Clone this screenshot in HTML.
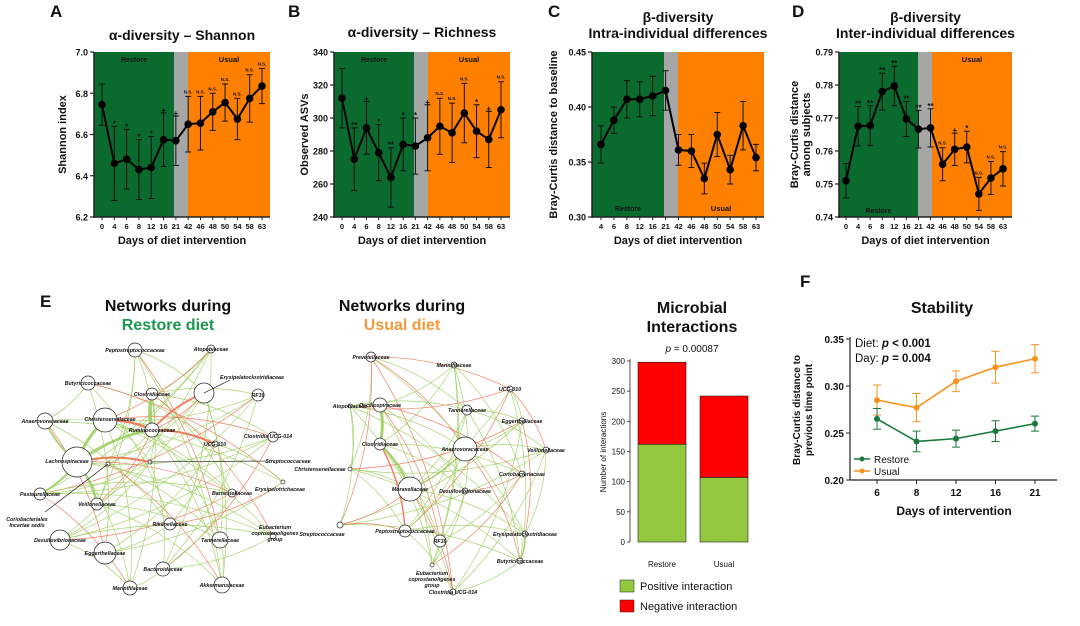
<!DOCTYPE html>
<html><head><meta charset="utf-8"><style>
html,body{margin:0;padding:0;background:#fff}
svg{display:block;font-family:"Liberation Sans",Arial,sans-serif}
</style></head><body>
<svg id="fig" width="1080" height="626" viewBox="0 0 1080 626" xmlns="http://www.w3.org/2000/svg">
<g id="layer"></g>
</svg>
<script>
// ---------- DATA ----------
const daysAB = ["0","4","6","8","12","16","21","42","46","48","50","54","58","63"];
const shannonMean = [6.745,6.46,6.48,6.43,6.44,6.575,6.57,6.65,6.655,6.71,6.755,6.675,6.775,6.835];
const shannonErr  = [0.10,0.18,0.145,0.145,0.15,0.13,0.12,0.135,0.13,0.09,0.09,0.10,0.115,0.085];
const shannonSig  = ["","*","*","*","*","+","+","N.S.","N.S.","N.S.","N.S.","N.S.","N.S.","N.S."];
const richMean = [312,275,294,279,264,284,283,288,295,291,303,292,287,305];
const richErr  = [18,19,16,17,18,16,17,20,17,18,18,16,17,17];
const richSig  = ["","**","+","*","**","*","*","+","N.S.","N.S.","N.S.","*","+","N.S."];
const daysC = ["4","6","8","12","16","21","42","46","48","50","54","58","63"];
const intraMean = [0.366,0.388,0.407,0.407,0.410,0.415,0.361,0.360,0.335,0.375,0.343,0.383,0.354];
const intraErr  = [0.017,0.012,0.017,0.016,0.018,0.018,0.014,0.015,0.014,0.020,0.013,0.022,0.012];
const interMean = [0.751,0.7675,0.7677,0.778,0.7797,0.7697,0.7666,0.767,0.756,0.7605,0.7612,0.747,0.7518,0.7546];
const interErr  = [0.0052,0.006,0.006,0.0056,0.006,0.0053,0.0057,0.0058,0.005,0.0049,0.0048,0.005,0.005,0.0052];
const interSig  = ["","**","**","**","**","**","**","**","N.S.","+","*","N.S.","N.S.","N.S."];
const barGroups = ["Restore","Usual"];
const positiveCounts = [162,107];
const negativeCounts = [136,135];
const barTicks = [0,50,100,150,200,250,300];
const stabDays = ["6","8","12","16","21"];
const stabRestore = [0.265,0.241,0.244,0.252,0.260];
const stabRestoreErr = [0.011,0.011,0.009,0.011,0.008];
const stabUsual = [0.285,0.277,0.305,0.320,0.329];
const stabUsualErr = [0.016,0.015,0.011,0.017,0.015];
const stabTicks = [0.20,0.25,0.30,0.35];

const NS="http://www.w3.org/2000/svg";
const L=document.getElementById('layer');
function el(tag,attrs,parent,txt){const e=document.createElementNS(NS,tag);for(const k in attrs)e.setAttribute(k,attrs[k]);if(txt!==undefined)e.textContent=txt;(parent||L).appendChild(e);return e;}
function txt(x,y,s,size,opts,parent){opts=opts||{};const t=el('text',{x:x,y:y,'font-size':size,'text-anchor':opts.anchor||'middle','font-weight':opts.bold===false?'normal':'bold',fill:opts.fill||'#111','font-style':opts.italic?'italic':'normal'},parent,s);if(opts.rot)t.setAttribute('transform','rotate(-90 '+x+' '+y+')');return t;}

function linePanel(cfg){
  const g=el('g',{});
  
  
  const {x0,x1,y0,y1,vmin,vmax}=cfg;
  const ys=v=>y1-(v-vmin)/(vmax-vmin)*(y1-y0);
  const n=cfg.cats.length;
  const xs=i=>cfg.px0+i*(cfg.px1-cfg.px0)/(n-1);
  let r=el('rect',{x:x0,y:y0,width:cfg.g1-x0,height:y1-y0,fill:'#0b6b2e'},g);
  
  r=el('rect',{x:cfg.g1,y:y0,width:cfg.g2-cfg.g1,height:y1-y0,fill:'#a6a6a6'},g);
  
  r=el('rect',{x:cfg.g2,y:y0,width:x1-cfg.g2,height:y1-y0,fill:'#ff8000'},g);
  
  txt((x0+cfg.g1)/2,cfg.rlY,'Restore',7,{},g);
  txt((cfg.g2+x1)/2,cfg.ulY,'Usual',7.5,{},g);
  el('line',{x1:x0,y1:y0,x2:x0,y2:y1+1,stroke:'#222','stroke-width':1.5},g);
  el('line',{x1:x0,y1:y1,x2:x1,y2:y1,stroke:'#222','stroke-width':1.5},g);
  cfg.ticks.forEach((t,i)=>{const y=ys(t);el('line',{x1:x0-4,y1:y,x2:x0,y2:y,stroke:'#222','stroke-width':1.2},g);
    const tl=txt(x0-6,y+3.5,cfg.tickLabels[i],9,{anchor:'end'},g);});
  cfg.cats.forEach((c,i)=>{el('line',{x1:xs(i),y1:y1,x2:xs(i),y2:y1+3,stroke:'#222','stroke-width':1},g);
    const tl=txt(xs(i),y1+12,c,7.5,{},g);});
  cfg.mean.forEach((m,i)=>{const x=xs(i),a=ys(m+cfg.err[i]),b=ys(m-cfg.err[i]);
    const e=el('path',{d:`M${x},${a}V${b}M${x-3},${a}H${x+3}M${x-3},${b}H${x+3}`,stroke:'#111','stroke-width':1,fill:'none'},g);
    
    if(cfg.sig&&cfg.sig[i]){const s=cfg.sig[i];const st=txt(x,a-3+(s==='N.S.'?0:3),s,s==='N.S.'?4.5:8,{},g);}
  });
  const p=el('polyline',{points:cfg.mean.map((m,i)=>xs(i)+','+ys(m)).join(' '),fill:'none',stroke:'#000','stroke-width':2},g);
  
  cfg.mean.forEach((m,i)=>{const c=el('circle',{cx:xs(i),cy:ys(m),r:3.8,fill:'#000'},g);});
  const xt=txt((x0+x1)/2,y1+27,'Days of diet intervention',11,{},g);
  cfg.ytitle.forEach((s,k)=>{const yt=txt(cfg.ytX+k*12,(y0+y1)/2,s,11,{rot:true},g);});
  cfg.title.forEach((s,k)=>{const tt=txt((x0+x1)/2,cfg.titleY+k*16,s,14,{},g);});
  const lt=txt(cfg.letterX,17,cfg.letter,17,{anchor:'start'},g);
}
linePanel({name:'panel-a-shannon',letter:'A',letterX:50,x0:94,x1:270,y0:52,y1:217,g1:174,g2:188,px0:102,px1:262,vmin:6.2,vmax:7.0,
  ticks:[6.2,6.4,6.6,6.8,7.0],tickLabels:['6.2','6.4','6.6','6.8','7.0'],cats:daysAB,mean:shannonMean,err:shannonErr,sig:shannonSig,
  ytitle:['Shannon index'],ytX:66,title:['α-diversity – Shannon'],titleY:40,rlY:62,ulY:62});
linePanel({name:'panel-b-richness',letter:'B',letterX:288,x0:334,x1:510,y0:52,y1:217,g1:414,g2:428,px0:342,px1:501,vmin:240,vmax:340,
  ticks:[240,260,280,300,320,340],tickLabels:['240','260','280','300','320','340'],cats:daysAB,mean:richMean,err:richErr,sig:richSig,
  ytitle:['Observed ASVs'],ytX:308,title:['α-diversity – Richness'],titleY:37,rlY:62,ulY:62});
linePanel({name:'panel-c-intra',letter:'C',letterX:548,x0:592,x1:764,y0:52,y1:217,g1:664,g2:678,px0:601,px1:756,vmin:0.30,vmax:0.45,
  ticks:[0.30,0.35,0.40,0.45],tickLabels:['0.30','0.35','0.40','0.45'],cats:daysC,mean:intraMean,err:intraErr,sig:null,
  ytitle:['Bray-Curtis distance to baseline'],ytX:557,title:['β-diversity','Intra-individual differences'],titleY:22,rlY:211,ulY:211});
linePanel({name:'panel-d-inter',letter:'D',letterX:792,x0:839,x1:1012,y0:52,y1:217,g1:918,g2:932,px0:846,px1:1003,vmin:0.74,vmax:0.79,
  ticks:[0.74,0.75,0.76,0.77,0.78,0.79],tickLabels:['0.74','0.75','0.76','0.77','0.78','0.79'],cats:daysAB,mean:interMean,err:interErr,sig:interSig,
  ytitle:['Bray-Curtis distance','among subjects'],ytX:798,title:['β-diversity','Inter-individual differences'],titleY:22,rlY:213,ulY:62});

// ---------- NETWORKS ----------
function network(name,nodes,edges){
  const g=el('g',{});
  const ge=el('g',{},g);
  edges.forEach(e=>{const a=nodes[e[0]],b=nodes[e[1]];const mx=(a[0]+b[0])/2+(b[1]-a[1])*0.12,my=(a[1]+b[1])/2-(b[0]-a[0])*0.12;
    const p=el('path',{d:`M${a[0]},${a[1]}Q${mx},${my} ${b[0]},${b[1]}`,fill:'none',stroke:e[2]?'#f26b4f':'#9acd5a','stroke-width':e[3]||0.7,opacity:0.85},ge);
    });
  nodes.forEach(n=>{const c=el('circle',{cx:n[0],cy:n[1],r:n[2],fill:'#fff',stroke:'#222','stroke-width':0.7},g);
    
    if(n[3]){const lines=n[3].split('|');lines.forEach((s,k)=>{const t=txt(n[4]!==undefined?n[4]:n[0],(n[5]!==undefined?n[5]:n[1]+2)+k*6,s,5.3,{italic:true},g);});}
  });
}
const rN=[[135,350,7,'Peptostreptococcaceae'],[211,349,4,'Atopobiaceae'],[88,383,7,'Butyricicoccaceae'],[152,394,6,'Clostridiaceae'],
 [204,393,10,'Erysipelatoclostridiaceae',252,379],[258,395,6,'RF39'],[45,421,8,'Anaerovoracaceae'],[105,420,12,'Christensenellaceae',110,421],
 [152,430,7,'Ruminococcaceae'],[273,437,5,'Clostridia UCG-014',268,438],[215,444,3,'UCG-010'],[77,462,15,'Lachnospiraceae',67,463],
 [108,464,2,''],[150,462,2,''],[283,482,2,'Erysipelotrichaceae',280,491],[40,494,6,'Pasteurellaceae'],[97,504,6,'Veillonellaceae'],
 [232,493,4,'Barnesiellaceae'],[170,524,6,'Rikenellaceae'],[60,540,10,'Desulfovibrionaceae'],[220,540,8,'Tannerellaceae'],
 [273,536,3,'Eubacterium|coprostanoligenes|group',275,529],[105,553,11,'Eggerthellaceae'],[163,569,7,'Bacteroidaceae'],
 [222,585,8,'Akkermansiaceae'],[130,588,7,'Marinifilaceae']];
const rE=[];
for(let i=0;i<rN.length;i++){for(let j=i+1;j<rN.length;j++){if((i*7+j*3)%4===0)rE.push([i,j,(i*3+j)%5===0,0.7]);}}
rE.push([11,7,0,3],[11,8,0,2.5],[8,3,0,3.5],[7,8,1,2.5],[8,10,1,2],[11,13,1,2],[8,4,1,2],[11,16,0,2.5],[11,15,0,2],[11,6,0,2]);
network('restore-network',rN,rE);
el('line',{x1:150,y1:462,x2:268,y2:461,stroke:'#000','stroke-width':0.6});
txt(288,463,'Streptococcaceae',5.3,{italic:true});
el('line',{x1:108,y1:464,x2:45,y2:512,stroke:'#000','stroke-width':0.6});
txt(27,521,'Coriobacteriales',5.3,{italic:true});txt(27,527,'Incertae sedis',5.3,{italic:true});
el('line',{x1:204,y1:393,x2:230,y2:380,stroke:'#000','stroke-width':0.6});

const uN=[[371,357,5,'Prevotellaceae'],[454,365,3,'Marinifilaceae'],[510,389,3,'UCG-010'],[350,406,2,'Atopobiaceae'],[380,405,7,'Oscillospiraceae'],
 [467,410,5,'Tannerellaceae'],[522,421,3,'Eggerthellaceae'],[380,444,6,'Clostridiaceae'],[465,449,12,'Anaerovoracaceae'],[546,450,3,'Veillonellaceae'],
 [522,474,3,'Coriobacteriaceae'],[350,469,2,'Christensenellaceae',320,471],[410,489,12,'Moraxellaceae'],[465,491,3,'Desulfovibrionaceae'],
 [340,525,3,'Streptococcaceae',322,536],[405,531,6,'Peptostreptococcaceae'],[440,541,6,'RF39'],[525,534,3,'Erysipelatoclostridiaceae'],
 [520,561,3,'Butyricicoccaceae'],[432,565,2,'Eubacterium|coprostanoligenes|group',432,575],[453,592,3,'Clostridia UCG-014']];
const uE=[];
for(let i=0;i<uN.length;i++){for(let j=i+1;j<uN.length;j++){if((i*5+j*2)%3===1)uE.push([i,j,(i+2*j)%4===0,0.7]);}}
uE.push([4,7,0,3],[7,12,0,2],[7,15,1,1.5],[8,12,0,1.5],[17,18,0,1.5]);
network('usual-network',uN,uE);

function title2(x,y,a,b,col){const t1=txt(x,y,a,16);
 const t2=txt(x,y+19,b,16,{fill:col});}
title2(168,311,'Networks during','Restore diet','#1a9850');
title2(402,311,'Networks during','Usual diet','#f59a3c');
txt(40,307,'E',17,{anchor:'start'});

// ---------- BAR CHART ----------
(function(){
  const g=el('g',{});
  const x0=630,yb=542,yt=361,vmax=300;const ys=v=>yb-v/vmax*(yb-yt);
  const bx=[638,700],bw=48;
  txt(692,313,'Microbial',16,{},g);txt(692,332,'Interactions',16,{},g);
  const pt=el('text',{x:692,y:352,'font-size':10,'text-anchor':'middle',fill:'#111'},g);
  el('tspan',{'font-style':'italic'},pt,'p');el('tspan',{},pt,' = 0.00087');
  barGroups.forEach((c,i)=>{
    let r=el('rect',{x:bx[i],y:ys(positiveCounts[i]),width:bw,height:yb-ys(positiveCounts[i]),fill:'#93c83e',stroke:'#222','stroke-width':0.6},g);
    
    const top=positiveCounts[i]+negativeCounts[i];
    r=el('rect',{x:bx[i],y:ys(top),width:bw,height:ys(positiveCounts[i])-ys(top),fill:'#ff0000',stroke:'#222','stroke-width':0.6},g);
    
    txt(bx[i]+bw/2,567,c,8,{bold:false},g);
  });
  el('line',{x1:x0,y1:yt-2,x2:x0,y2:yb,stroke:'#222','stroke-width':0.8},g);
  barTicks.forEach(t=>{el('line',{x1:x0-3,y1:ys(t),x2:x0,y2:ys(t),stroke:'#222','stroke-width':0.8},g);txt(x0-5,ys(t)+3,String(t),8,{anchor:'end',bold:false},g);});
  txt(606,452,'Number of interactions',8,{bold:false,rot:true},g);
  let r=el('rect',{x:620,y:580,width:14,height:12,fill:'#93c83e',stroke:'#222','stroke-width':0.5},g);
  txt(640,590,'Positive interaction',11,{anchor:'start',bold:false},g);
  r=el('rect',{x:620,y:600,width:14,height:12,fill:'#ff0000',stroke:'#222','stroke-width':0.5},g);
  txt(640,610,'Negative interaction',11,{anchor:'start',bold:false},g);
})();

// ---------- STABILITY ----------
(function(){
  const g=el('g',{});
  const x0=850,x1=1057,yt=339,yb=480,vmin=0.20,vmax=0.35;
  const ys=v=>yb-(v-vmin)/(vmax-vmin)*(yb-yt);
  const xs=i=>877+i*(1035-877)/(stabDays.length-1);
  txt(800,287,'F',17,{anchor:'start'},g);
  txt(942,313,'Stability',16,{},g);
  el('line',{x1:x0,y1:yt-2,x2:x0,y2:yb,stroke:'#222','stroke-width':1.2},g);
  el('line',{x1:x0,y1:yb,x2:x1,y2:yb,stroke:'#222','stroke-width':1.2},g);
  stabTicks.forEach(t=>{el('line',{x1:x0-4,y1:ys(t),x2:x0,y2:ys(t),stroke:'#222'},g);txt(x0-6,ys(t)+4,t.toFixed(2),10,{anchor:'end'},g);});
  stabDays.forEach((d,i)=>{el('line',{x1:xs(i),y1:yb,x2:xs(i),y2:yb+4,stroke:'#222'},g);txt(xs(i),yb+16,d,10,{},g);});
  txt(954,515,'Days of intervention',12,{},g);
  txt(800,410,'Bray-Curtis distance to',10,{rot:true},g);txt(812,410,'previous time point',10,{rot:true},g);
  function series(m,e,col,nm){
    m.forEach((v,i)=>{const a=ys(v+e[i]),b=ys(v-e[i]),x=xs(i);const p=el('path',{d:`M${x},${a}V${b}M${x-4},${a}H${x+4}M${x-4},${b}H${x+4}`,stroke:col,'stroke-width':1,fill:'none'},g);
      });
    const l=el('polyline',{points:m.map((v,i)=>xs(i)+','+ys(v)).join(' '),fill:'none',stroke:col,'stroke-width':1.6},g);
    
    m.forEach((v,i)=>{const c=el('circle',{cx:xs(i),cy:ys(v),r:3,fill:col},g);});
  }
  series(stabUsual,stabUsualErr,'#f7931e','usual');
  series(stabRestore,stabRestoreErr,'#177a3c','restore');
  const d1=el('text',{x:855,y:347,'font-size':11.5,fill:'#111'},g);el('tspan',{},d1,'Diet: ');el('tspan',{'font-weight':'bold','font-style':'italic'},d1,'p');el('tspan',{'font-weight':'bold'},d1,' < 0.001');
  const d2=el('text',{x:855,y:362,'font-size':11.5,fill:'#111'},g);el('tspan',{},d2,'Day: ');el('tspan',{'font-weight':'bold','font-style':'italic'},d2,'p');el('tspan',{'font-weight':'bold'},d2,' = 0.004');
  el('line',{x1:854,y1:459,x2:870,y2:459,stroke:'#177a3c','stroke-width':1.5},g);el('circle',{cx:862,cy:459,r:2.5,fill:'#177a3c'},g);
  txt(874,463,'Restore',10,{anchor:'start',bold:false},g);
  el('line',{x1:854,y1:471,x2:870,y2:471,stroke:'#f7931e','stroke-width':1.5},g);el('circle',{cx:862,cy:471,r:2.5,fill:'#f7931e'},g);
  txt(874,475,'Usual',10,{anchor:'start',bold:false},g);
})();
</script>
</body></html>
